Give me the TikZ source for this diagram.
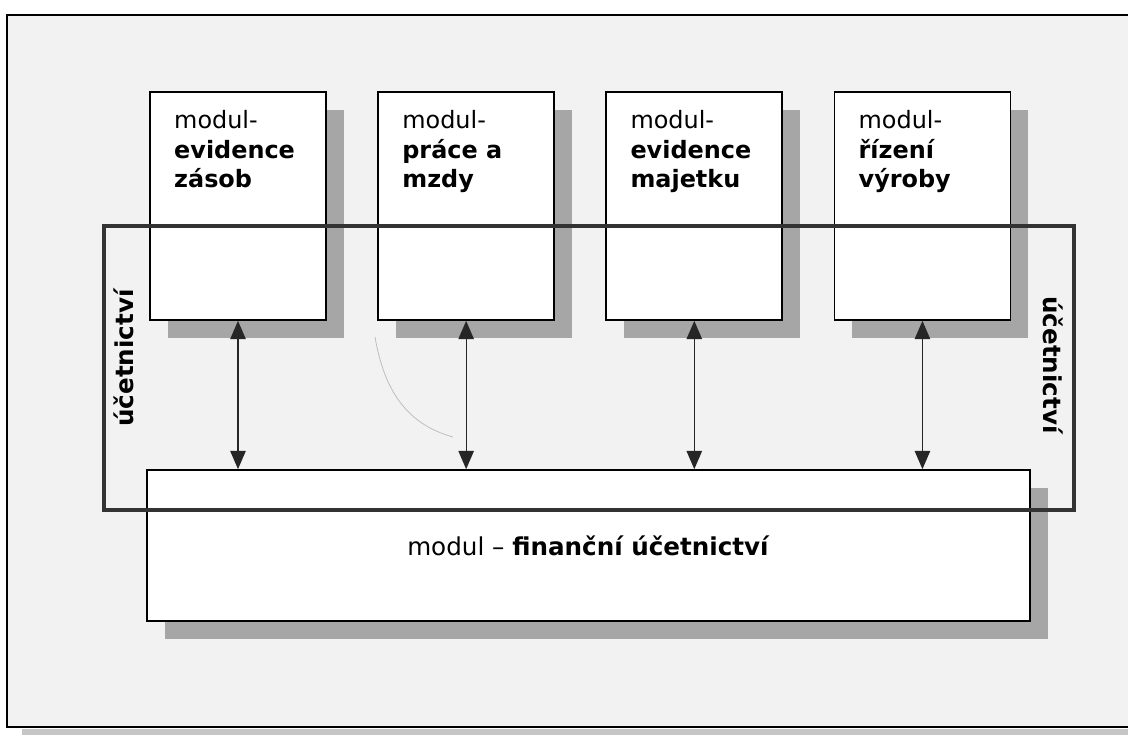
\documentclass[tikz,border=0pt]{standalone}
\usepackage{fontspec}
\setmainfont{DejaVu Sans}
\usetikzlibrary{arrows.meta,shadows,positioning}

\begin{document}
\begin{tikzpicture}[x=0.025cm, y=-0.025cm,
    modul/.style={draw=black, line width=1.2pt, fill=white, inner sep=0pt,
        minimum width=4.4cm, minimum height=5.7cm,
        drop shadow={shadow xshift=0.45cm, shadow yshift=-0.45cm, fill=gray!70, opacity=1}},
    popis/.style={align=left, inner sep=0pt, font=\fontsize{17}{21}\selectfont},
    obal/.style={draw=black!80, line width=2.2pt},
    bok/.style={font=\bfseries\fontsize{17.5}{21}\selectfont},
    vazba/.style={line width=0.9pt, black!85,
        {Triangle[width=11pt,length=13pt]}-{Triangle[width=11pt,length=13pt]}},
    node distance=1.26cm]
    \useasboundingbox (0,0) rectangle (1128,735);
    % podklad a ramecek stranky
    \fill[gray!10] (7,15) rectangle (1128,727);
    \fill[gray!45] (22,729) rectangle (1128,735);
    \draw[line width=1.4pt] (1128,15) -- (7,15) -- (7,727) -- (1128,727);
    % moduly
    \node[modul] (zasoby) at (238,206) {};
    \node[modul, right=of zasoby] (mzdy) {};
    \node[modul, right=of mzdy] (majetek) {};
    \node[modul, right=of majetek] (vyroba) {};
    \node[modul, minimum width=22.075cm, minimum height=3.775cm] (financni) at (588.5,545.5)
        {\fontsize{17.5}{21}\selectfont modul – \textbf{finanční účetnictví}};
    \node[popis, below right=0.48cm and 0.62cm of zasoby.north west] (tzasoby)
        {modul-\\\textbf{evidence}\\\textbf{zásob}};
    \node[popis, below right=0.48cm and 0.62cm of mzdy.north west] (tmzdy)
        {modul-\\\textbf{práce a}\\\textbf{mzdy}};
    \node[popis, below right=0.48cm and 0.62cm of majetek.north west] (tmajetek)
        {modul-\\\textbf{evidence}\\\textbf{majetku}};
    \node[popis, below right=0.48cm and 0.62cm of vyroba.north west] (tvyroba)
        {modul-\\\textbf{řízení}\\\textbf{výroby}};
    % ucetnictvi
    \draw[obal] (104,226) rectangle (1074,510);
    \node[bok, rotate=90] (ucetL) at (124,358) {účetnictví};
    \node[bok, rotate=-90] (ucetR) at (1053,365) {účetnictví};
    % vazby
    \foreach \m in {zasoby,mzdy,majetek,vyroba}
        \draw[vazba] (\m.south) -- (\m.south |- financni.north);
    \draw[gray!55, line width=0.5pt] (375,337) .. controls (385,395) and (410,425) .. (453,437);
\end{tikzpicture}
\end{document}
